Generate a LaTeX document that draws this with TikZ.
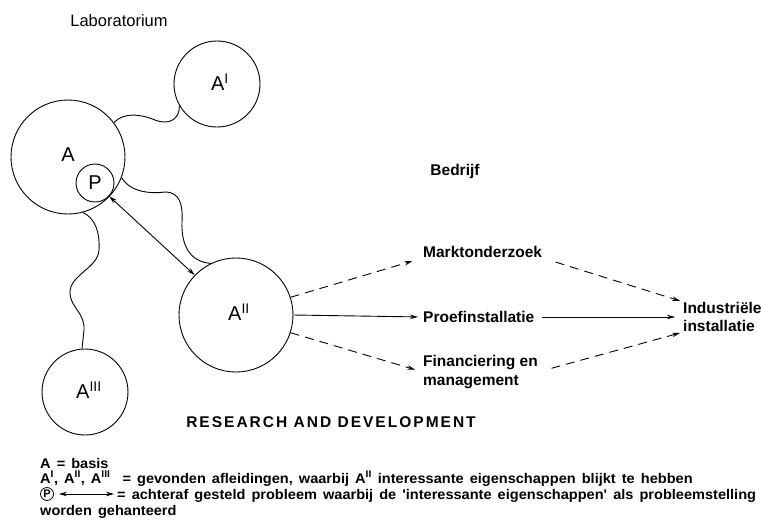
\documentclass[tikz,border=0pt]{standalone}
\usepackage{fontspec}
\setmainfont{Liberation Sans}
\newfontfamily\legfont{Liberation Sans}[Ligatures=TeXOff,FakeStretch=1.04,WordSpace=1.5]
\usetikzlibrary{arrows.meta,calc}
\begin{document}
\begin{tikzpicture}[x=1pt,y=-1pt,
  circ/.style={draw,circle,line width=0.9pt,inner sep=0pt},
  lbl/.style={font=\fontsize{15.5}{18.5}\selectfont\bfseries,inner sep=0pt},
  clbl/.style={font=\fontsize{20}{22}\selectfont},
  leg/.style={font=\legfont\fontsize{14}{16}\selectfont\bfseries,inner sep=0pt},
  wig/.style={line width=0.9pt},
  arr/.style={line width=0.9pt,-{Stealth[length=8pt,width=4.5pt]}},
  dsh/.style={arr,dash pattern=on 9pt off 6pt},
  darr/.style={line width=0.9pt,{Stealth[length=8pt,width=4.5pt]}-{Stealth[length=8pt,width=4.5pt]}}]
\useasboundingbox (0,0) rectangle (762,531);
\clip (0,0) rectangle (762,531);

% circles
\node[circ,minimum size=114pt] (A) at (68,157) {};
\node[clbl,inner sep=0pt] (Alab) at (68,155) {A};
\node[circ,minimum size=38pt,fill=white,clbl] (P) at (95,183) {P};
\node[circ,minimum size=86pt] (A1) at (217,84) {};
\node[clbl,inner sep=0pt] (A1lab) at (220,82) {A\textsuperscript{I}};
\node[circ,minimum size=114pt] (A2) at (236,315) {};
\node[clbl,inner sep=0pt] (A2lab) at (239,312) {A\textsuperscript{II}};
\node[circ,minimum size=86pt] (A3) at (85,392) {};
\node[clbl,inner sep=0pt] (A3lab) at (89,390) {A\textsuperscript{III}};

% titles
\node[inner sep=0pt,font=\fontsize{16.5}{19}\selectfont] (lab) at (119,21) {Laboratorium};
\node[lbl] (bed) at (455,171) {Bedrijf};
\node[inner sep=0pt,font=\fontsize{15.5}{19}\selectfont\bfseries\addfontfeature{LetterSpace=13}] (rd) at (331,422) {RESEARCH AND DEVELOPMENT};

% wiggly connectors
\draw[wig] (A.37) .. controls (125,112) and (140,114) .. (155,120)
           .. controls (170,126) and (180,118) .. (A1.210);
\draw[wig] (A.-21) .. controls (130,192) and (150,194) .. (165,192)
           .. controls (180,192) and (183,205) .. (182,222)
           .. controls (181,245) and (190,262) .. (A2.116);
\draw[wig] (A.-75) .. controls (95,218) and (100,232) .. (99,250)
           .. controls (98,268) and (70,275) .. (70,292)
           .. controls (70,308) and (85,312) .. (84,330)
           -- (A3.94);

% P <-> A II
\draw[darr] (P.-43) -- (A2.136);

% right side
\node[lbl,anchor=west] (mk) at (423,252) {Marktonderzoek};
\node[lbl,anchor=west] (pf) at (423,317) {Proefinstallatie};
\node[lbl,anchor=west,align=left] (fn) at (423,372) {Financiering en\\management};
\node[lbl,anchor=west,align=left] (ind) at (683,317) {Industriële\\installatie};

\draw[dsh,shorten >=11pt] (A2.18) -- (mk.south west);
\draw[arr,shorten >=5pt] (A2.east) -- (pf.west);
\draw[dsh,shorten >=8pt] (A2.-18) -- (fn.west);
\draw[dsh,shorten <=14pt,shorten >=3pt] (mk.south east) -- (ind.north west);
\draw[arr,shorten <=7pt,shorten >=8pt] (pf.east) -- (ind.west);
\draw[dsh,shorten <=14pt,shorten >=3pt] (fn.east) -- (ind.south west);

% legend
\node[leg,anchor=base west] (l1) at (40,468) {A = basis};
\node[leg,anchor=base west] (l2) at (40,483) {A\textsuperscript{I}, A\textsuperscript{II}, A\textsuperscript{III} \ = gevonden afleidingen, waarbij A\textsuperscript{II} interessante eigenschappen blijkt te hebben};
\node[circ,line width=0.8pt,minimum size=13pt,font=\fontsize{11}{11}\selectfont\bfseries] (lp) at (47,494) {P};
\coordinate (la) at (114,494);
\draw[darr,line width=0.8pt] ([xshift=5pt]lp.east) -- (la);
\node[leg,anchor=base west] (l3) at (117,499) {= achteraf gesteld probleem waarbij de 'interessante eigenschappen' als probleemstelling};
\node[leg,anchor=base west] (l4) at (40,515) {worden gehanteerd};
\end{tikzpicture}
\end{document}
